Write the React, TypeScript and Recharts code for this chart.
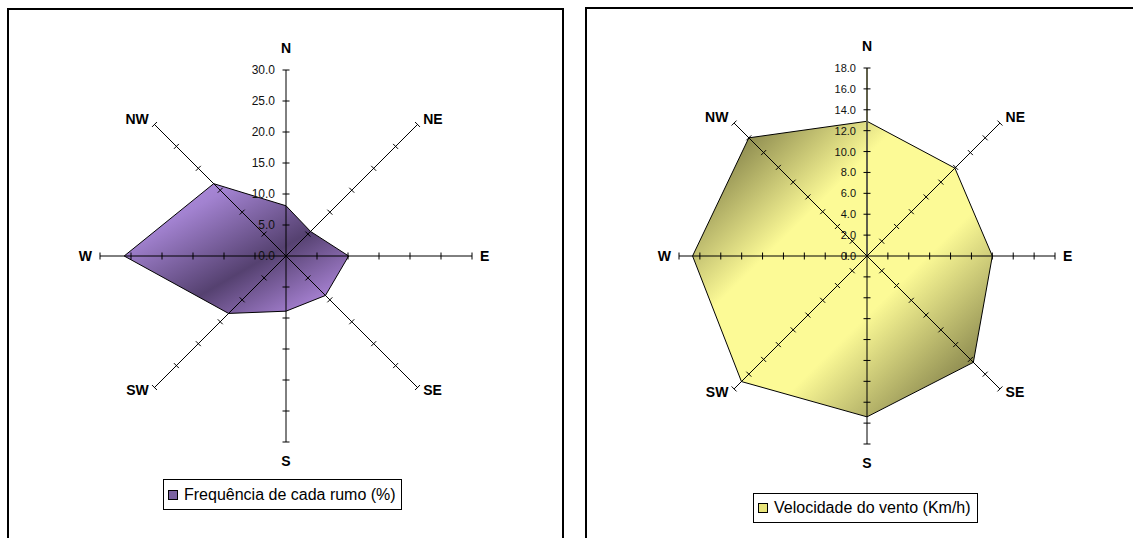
import React from 'react';
import { RadarChart, Radar, PolarAngleAxis, PolarRadiusAxis, Legend } from 'recharts';

const directions = ['N', 'NE', 'E', 'SE', 'S', 'SW', 'W', 'NW'];
const frequency = [8.1, 5.6, 10.1, 9.0, 8.9, 13.1, 26.1, 16.5];
const speed = [12.9, 11.9, 12.0, 14.4, 15.4, 17.0, 16.7, 16.0];
const freqTicks = [0, 5, 10, 15, 20, 25, 30];
const speedTicks = [0, 2, 4, 6, 8, 10, 12, 14, 16, 18];
const axisAngles = [90, 45, 0, -45, -90, -135, 180, 135];
const freqName = 'Frequência de cada rumo (%)';
const speedName = 'Velocidade do vento (Km/h)';

const freqData = directions.map((d, i) => ({ dir: d, value: frequency[i] }));
const speedData = directions.map((d, i) => ({ dir: d, value: speed[i] }));

const FONT = '"Liberation Sans", Arial, Helvetica, sans-serif';

function makeRadiusTick(angle: number, showLabel: boolean, fontSize: number) {
  return (props: any) => {
    const { x, y, payload } = props;
    const v = Number(payload.value);
    const rad = (angle * Math.PI) / 180;
    const px = Math.sin(rad);
    const py = Math.cos(rad);
    const L = 3.5;
    return (
      <g>
        {v !== 0 && (
          <line x1={x - L * px} y1={y - L * py} x2={x + L * px} y2={y + L * py} stroke="#000" strokeWidth={1} />
        )}
        {showLabel && (
          <text x={x - 11} y={y} dy="0.36em" textAnchor="end" fontSize={fontSize} fontFamily={FONT} fill="#111">
            {v.toFixed(1)}
          </text>
        )}
      </g>
    );
  };
}

function AngleTick(props: any) {
  const { x, y, payload } = props;
  const label = String(payload.value);
  let anchor: 'start' | 'middle' | 'end' = 'middle';
  let dy = 5;
  if (label === 'N') { anchor = 'middle'; dy = -9; }
  else if (label === 'S') { anchor = 'middle'; dy = 15.5; }
  else if (label === 'NE' || label === 'E') { anchor = 'start'; dy = 5; }
  else if (label === 'SE') { anchor = 'start'; dy = 2; }
  else if (label === 'NW' || label === 'W') { anchor = 'end'; dy = 5; }
  else if (label === 'SW') { anchor = 'end'; dy = 2; }
  return (
    <text x={x} y={y} dy={dy} textAnchor={anchor} fontSize={14} fontWeight="bold" fontFamily={FONT} fill="#000">
      {label}
    </text>
  );
}

function makeLegend(color: string, width: number, height: number) {
  return (props: any) => {
    const { payload } = props;
    return (
      <div
        style={{
          boxSizing: 'border-box',
          width,
          height,
          border: '1px solid #000',
          background: '#fff',
          display: 'flex',
          alignItems: 'center',
          paddingLeft: 4,
          fontFamily: FONT,
          fontSize: 16,
          color: '#000',
          whiteSpace: 'nowrap',
        }}
      >
        {(payload || []).map((p: any, i: number) => (
          <React.Fragment key={i}>
            <span
              style={{
                display: 'inline-block',
                width: 8,
                height: 8,
                background: color,
                border: '1px solid #000',
                marginRight: 6,
              }}
            />
            <span>{p.value}</span>
          </React.Fragment>
        ))}
      </div>
    );
  };
}

type RoseProps = {
  data: any[];
  ticks: number[];
  name: string;
  gradId: string;
  stops: { o: string; c: string }[];
  width: number;
  cx: number;
  cy: number;
  R: number;
  tickFont: number;
  legendColor: string;
  legendPos: { left: number; top: number; width: number; height: number };
  nAxisStroke: string;
  nAxisWidth: number;
};

function Rose(p: RoseProps) {
  const max = p.ticks[p.ticks.length - 1];
  return (
    <RadarChart
      width={p.width}
      height={538}
      data={p.data}
      cx={p.cx}
      cy={p.cy}
      outerRadius={p.R}
      startAngle={90}
      endAngle={-270}
      margin={{ top: 0, right: 0, bottom: 0, left: 0 }}
    >
      <defs>
        <linearGradient id={p.gradId} x1="0" y1="0" x2="1" y2="1">
          {p.stops.map((s, i) => (
            <stop key={i} offset={s.o} stopColor={s.c} />
          ))}
        </linearGradient>
      </defs>
      <Radar
        name={p.name}
        dataKey="value"
        radiusAxisId={0}
        stroke="#000"
        strokeWidth={1}
        fill={`url(#${p.gradId})`}
        fillOpacity={1}
        isAnimationActive={false}
      />
      <PolarAngleAxis dataKey="dir" axisLine={false} tickLine={false} tickSize={8} tick={AngleTick} />
      {axisAngles.map((a, i) => (
        <PolarRadiusAxis
          key={i}
          radiusAxisId={i}
          angle={a}
          type="number"
          domain={[0, max]}
          allowDataOverflow
          tickCount={p.ticks.length}
          axisLine={{ stroke: i === 0 ? p.nAxisStroke : '#000', strokeWidth: i === 0 ? p.nAxisWidth : 1 }}
          tick={makeRadiusTick(a, i === 0, p.tickFont)}
        />
      ))}
      <Legend
        verticalAlign="bottom"
        align="left"
        content={makeLegend(p.legendColor, p.legendPos.width, p.legendPos.height)}
        wrapperStyle={{ left: p.legendPos.left, top: p.legendPos.top, bottom: 'auto', width: p.legendPos.width, height: p.legendPos.height }}
      />
    </RadarChart>
  );
}

export default function App() {
  return (
    <div style={{ position: 'absolute', left: 0, top: 0, width: 1133, height: 538, overflow: 'hidden', background: '#fff' }}>
      <div style={{ position: 'absolute', left: 7, top: 8, width: 557, height: 600, border: '2px solid #000', boxSizing: 'border-box' }} />
      <div style={{ position: 'absolute', left: 585, top: 7, width: 600, height: 600, border: '2px solid #000', boxSizing: 'border-box' }} />
      <div style={{ position: 'absolute', left: 0, top: 0 }}>
        <Rose
          data={freqData}
          ticks={freqTicks}
          name={freqName}
          gradId="gradFreq"
          stops={[
            { o: '0%', c: '#bc96ec' },
            { o: '25%', c: '#a282d0' },
            { o: '60%', c: '#554170' },
            { o: '100%', c: '#c69af8' },
          ]}
          width={570}
          cx={286}
          cy={256}
          R={186}
          tickFont={12}
          legendColor="#7a62a0"
          legendPos={{ left: 163, top: 479, width: 239, height: 31 }}
          nAxisStroke="#000"
          nAxisWidth={1}
        />
      </div>
      <div style={{ position: 'absolute', left: 580, top: 0 }}>
        <Rose
          data={speedData}
          ticks={speedTicks}
          name={speedName}
          gradId="gradSpeed"
          stops={[
            { o: '0%', c: '#56542c' },
            { o: '35%', c: '#fcfa96' },
            { o: '62%', c: '#fcfa96' },
            { o: '100%', c: '#5a5830' },
          ]}
          width={553}
          cx={287}
          cy={256}
          R={188}
          tickFont={11}
          legendColor="#e8e47a"
          legendPos={{ left: 173, top: 493, width: 225, height: 30 }}
          nAxisStroke="#5f5f4a"
          nAxisWidth={2}
        />
      </div>
    </div>
  );
}
